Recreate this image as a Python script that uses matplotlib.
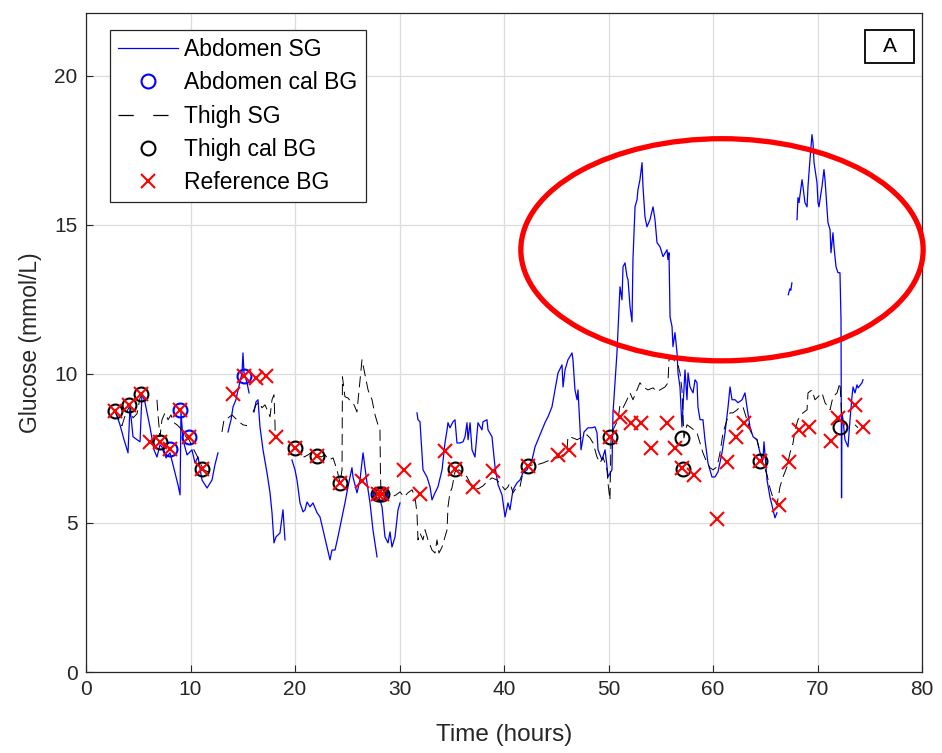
import numpy as np
import matplotlib
matplotlib.use("Agg")
import matplotlib.pyplot as plt
from matplotlib.patches import Ellipse, Rectangle

plt.rcParams['font.family'] = ['Liberation Sans', 'DejaVu Sans']
plt.rcParams['lines.scale_dashes'] = False

# ---------------- data ----------------
# Abdomen sensor glucose segments (time h, glucose mmol/L)
abd_1 = [(2.87,8.69),(3.25,8.29),(3.64,7.79),(4.02,7.35),(4.21,8.89),(4.50,7.89),(4.88,7.79),(5.17,7.72),(5.36,9.36),(5.65,9.03),(6.12,8.22),(6.51,7.45),(6.79,7.21),(7.08,7.62),(7.27,7.55),(7.66,7.18),(8.04,7.35),(8.52,6.68),(8.80,6.28),(9.00,5.94),(9.09,8.72),(9.28,7.79),(9.67,7.28),(10.14,7.45),(10.43,7.01),(10.72,7.21),(11.10,6.44),(11.58,6.17),(12.06,6.44),(12.34,6.95),(12.63,7.35)]
abd_2 = [(13.59,8.05),(13.88,8.46),(14.07,8.89),(14.35,9.13),(14.55,9.46),(14.93,10.03),(15.02,10.70),(15.12,10.03),(15.41,9.70),(15.60,9.36)]
abd_3 = [(16.08,8.72),(16.27,9.06),(16.46,9.13),(16.65,8.22),(16.94,7.45),(17.32,6.68),(17.61,6.01),(17.80,5.34),(17.99,4.33),(18.18,4.53),(18.56,4.66),(18.85,5.44),(19.04,4.43)]
abd_4 = [(19.71,7.11),(20.00,6.78),(20.19,6.44),(20.48,5.67),(20.77,5.37),(20.96,5.44),(21.15,5.70),(21.44,5.54),(21.72,5.67),(22.11,5.34),(22.39,5.20),(22.68,4.77),(23.06,4.19),(23.35,3.76),(23.54,4.09),(23.83,4.09),(24.11,4.53),(24.50,5.20),(24.78,5.67),(25.07,6.21),(25.45,6.85),(25.55,6.54),(25.93,6.01),(26.22,6.44),(26.51,7.35),(26.89,6.34),(27.18,5.67),(27.46,4.77),(27.85,3.86)]
abd_5 = [(28.04,5.87),(28.33,5.54),(28.61,4.53),(28.90,4.33),(29.09,4.70),(29.28,4.19),(29.57,4.53),(29.86,5.44),(30.05,5.67)]
abd_6 = [(31.67,8.69),(31.77,8.46),(31.96,8.39),(32.25,6.78),(32.63,6.54),(32.92,6.21),(33.11,5.77),(33.40,6.01),(33.68,6.21),(34.07,6.78),(34.35,7.68),(34.55,8.12),(34.64,8.36),(34.83,8.19),(35.12,8.39),(35.31,8.46),(35.50,7.68),(35.79,7.68),(36.08,7.72),(36.27,7.89),(36.46,8.36),(36.56,7.79),(36.75,8.36),(36.94,7.45),(37.22,7.21),(37.51,8.36),(37.89,8.12),(37.99,8.39),(38.37,8.46),(38.47,8.12),(38.85,7.89),(39.14,6.88),(39.43,6.28),(39.81,5.94),(40.10,5.20),(40.38,5.67),(40.57,5.44),(40.86,6.11),(41.24,6.34),(41.53,6.44),(41.82,6.68),(42.20,6.78),(42.68,7.11),(42.97,7.55),(43.25,7.79),(43.64,8.12),(43.92,8.36),(44.21,8.56),(44.59,8.89),(44.88,9.46),(45.17,10.03),(45.55,10.30),(45.65,9.56),(45.84,10.13),(46.12,10.47),(46.51,10.70),(46.60,10.47),(46.79,9.46),(46.99,9.13),(47.08,9.46),(47.27,8.22),(47.37,7.45),(47.66,8.05),(48.04,8.19),(48.42,8.19),(48.71,8.22),(48.90,8.02),(49.00,7.45),(49.38,7.11),(49.67,7.45),(49.86,6.88),(49.95,6.54),(50.33,6.78),(50.43,8.69),(50.81,10.70),(51.10,12.92),(51.29,12.48),(51.39,13.59),(51.58,13.72),(51.77,13.26),(51.87,13.15),(52.06,12.25),(52.25,11.74),(52.34,13.83),(52.54,15.60),(52.73,15.84),(52.82,16.17),(53.01,16.51),(53.21,17.08),(53.30,16.28),(53.49,15.27),(53.68,14.93),(53.97,15.17),(54.26,15.60),(54.45,15.17),(54.64,14.40),(54.93,14.26),(55.22,13.93),(55.60,14.16),(55.69,13.83),(55.79,14.06),(55.89,11.91),(56.08,11.58),(56.17,10.91),(56.36,11.38),(56.56,10.70),(56.65,10.03),(56.84,9.56),(57.03,8.22),(57.13,8.89),(57.32,10.13),(57.51,9.13),(57.61,10.03),(57.80,9.56),(58.09,9.36),(58.28,9.80),(58.47,9.70),(58.56,8.89),(58.76,8.46),(59.04,8.46),(59.23,7.79),(59.52,7.01),(59.90,6.54),(60.19,6.54),(60.48,6.71),(60.86,7.35),(61.15,8.02),(61.44,8.89),(61.63,9.56),(61.82,9.13),(62.11,9.13),(62.39,9.03),(62.78,9.13),(63.06,9.36),(63.25,8.89),(63.54,8.22),(63.83,7.89),(64.21,7.79),(64.50,7.35),(64.78,7.11),(64.88,7.72),(65.17,6.44),(65.45,5.87),(65.74,5.44),(65.93,5.17),(66.12,5.34)]
abd_7 = [(67.20,12.65),(67.35,12.85),(67.45,12.80),(67.55,13.05)]
abd_8 = [(68.04,15.17),(68.13,15.91),(68.23,15.74),(68.52,16.51),(68.61,16.28),(68.80,15.74),(69.00,15.60),(69.09,16.28),(69.28,17.18),(69.47,18.02),(69.57,17.75),(69.67,17.08),(69.95,16.41),(70.05,15.74),(70.14,15.60),(70.43,16.28),(70.62,16.85),(70.72,16.51),(70.91,15.50),(71.00,15.07),(71.20,14.83),(71.29,14.06),(71.48,14.73),(71.58,14.26),(71.77,13.59),(71.96,13.39),(72.15,13.39),(72.25,11.81),(72.30,5.84),(72.34,8.69),(72.44,8.46),(72.63,7.79),(72.92,7.55),(73.11,8.46),(73.30,9.23),(73.40,9.56),(73.59,9.36),(73.78,9.63),(73.88,9.53),(74.26,9.70),(74.35,9.80)]

# Thigh sensor glucose segments
th_1 = [(2.68,8.79),(3.06,8.52),(3.44,8.26),(3.83,8.69),(4.21,8.93),(4.50,8.52),(4.88,8.66),(5.17,9.19),(5.55,9.40)]
th_2 = [(6.79,9.13),(6.89,8.62),(7.08,7.89),(7.27,8.46),(7.56,8.69),(7.85,8.46),(8.13,8.62),(8.42,8.36),(8.71,8.29),(9.00,8.19),(9.28,8.02),(9.57,7.89),(9.86,7.79),(10.14,7.58),(10.43,7.38),(10.72,7.18),(11.00,6.95),(11.29,6.78),(11.67,6.71),(12.06,6.85)]
th_3 = [(13.01,8.05),(13.21,8.46),(13.59,8.52),(13.97,8.62),(14.26,8.52),(14.64,8.39),(15.02,8.29),(15.41,8.26)]
th_4 = [(15.98,8.72),(16.27,8.96),(16.56,9.06),(16.84,8.86),(17.13,8.96),(17.42,8.72),(17.61,8.56),(17.80,9.13),(17.99,9.30),(18.09,8.29),(18.10,7.89)]
th_5 = [(19.71,7.62),(20.10,7.52),(20.48,7.38),(20.86,7.21),(21.24,7.28),(21.63,7.38),(22.11,7.28),(22.49,7.21),(22.87,7.28),(23.25,7.11),(23.64,7.18),(24.02,6.78),(24.31,6.34),(24.50,6.78),(24.54,9.90),(24.78,9.23),(25.07,9.19),(25.36,9.06),(25.65,8.96),(25.93,8.72),(26.41,10.47),(26.70,9.97),(26.99,9.46),(27.37,9.13),(27.66,8.62),(27.94,8.29),(28.13,8.12),(28.18,6.61),(28.23,6.01),(28.61,5.87),(28.90,6.04),(29.28,5.87),(29.67,5.94),(30.05,6.04),(30.43,5.87),(30.81,6.01),(31.20,6.11),(31.48,5.87),(31.67,5.34),(31.77,4.43),(31.96,4.66),(32.25,4.43),(32.44,4.77),(32.73,4.43),(33.11,4.09),(33.40,3.99),(33.59,4.43),(33.78,3.99),(34.07,4.19),(34.35,4.53),(34.55,4.77),(34.64,5.54),(34.83,6.01),(35.02,6.17),(35.31,6.71),(35.69,6.78),(36.08,6.68),(36.46,6.54),(36.75,6.34),(37.13,6.21),(37.51,6.14),(37.99,6.24),(38.37,6.38),(38.85,6.51),(39.33,6.44),(39.71,6.28),(40.10,6.11),(40.38,6.21),(40.57,6.34),(40.86,6.01),(41.24,6.21),(41.53,6.21),(41.82,6.71),(42.30,6.91),(42.78,6.95),(43.16,6.95),(43.73,7.01),(44.21,7.08),(44.69,7.18),(45.17,7.18),(45.65,7.28),(46.03,7.45),(46.12,7.89),(46.60,7.85),(46.99,7.79),(47.56,7.89),(47.94,7.95),(48.23,7.85),(48.52,7.68),(48.90,7.21),(49.19,7.01),(49.47,7.21),(49.86,6.78),(49.95,6.34),(50.14,5.77),(50.24,7.79),(50.43,8.12),(50.91,8.46),(51.10,8.96),(51.39,8.86),(51.77,9.13),(52.06,9.36),(52.34,9.13),(52.73,9.46),(53.01,9.70),(53.30,9.56),(53.78,9.46),(54.26,9.53),(54.64,9.40),(54.93,9.46),(55.41,9.56),(55.69,9.70),(55.79,10.47),(56.08,10.57),(56.36,10.40),(56.65,10.30),(56.84,10.03),(57.03,9.46),(57.13,8.62),(57.22,7.85),(57.51,8.29),(57.80,8.22),(58.18,8.12),(58.47,8.02),(58.76,7.68),(59.04,7.35),(59.43,7.01),(59.71,6.85),(60.00,6.78),(60.38,6.88),(60.67,7.35),(60.96,8.02),(61.34,8.46),(61.63,8.69),(61.91,8.69),(62.30,8.79),(62.58,8.89),(62.87,8.89),(63.25,8.46),(63.54,8.12),(63.83,7.89),(64.21,7.79),(64.50,7.35),(64.78,7.01),(65.17,6.61),(65.45,6.17),(65.74,5.84),(66.12,5.60),(66.41,6.21),(66.70,6.54),(67.08,6.88),(67.37,7.35),(67.66,7.68),(67.85,8.12),(68.13,8.46),(68.61,8.69),(69.00,8.79),(69.09,9.36),(69.47,9.46),(69.76,9.13),(70.05,9.23),(70.43,9.36),(70.72,9.03),(71.20,8.79),(71.48,9.23),(71.87,9.36),(72.15,9.70),(72.34,8.46)]
th_6 = [(73.59,8.29),(73.88,8.19)]

# Calibration blood glucose
abd_cal_t = [8.0, 9.0, 9.9, 15.1, 28.1]
abd_cal_v = [7.48, 8.80, 7.89, 9.93, 5.97]
thigh_cal_t = [2.8, 4.1, 5.3, 7.1, 11.1, 20.0, 22.1, 24.3, 27.9, 28.3, 35.3, 42.3, 50.1, 57.0, 57.1, 64.5, 72.2]
thigh_cal_v = [8.76, 8.96, 9.33, 7.72, 6.81, 7.52, 7.25, 6.34, 5.97, 5.97, 6.81, 6.91, 7.89, 7.85, 6.81, 7.08, 8.22]

# Reference blood glucose
ref_t = [2.78, 4.1, 5.26, 6.1, 7.08, 8.0, 9.0, 9.86, 11.1, 14.07, 15.1, 16.3, 17.2, 18.2, 20.0, 22.1, 24.3, 26.4, 27.9, 28.3, 30.4, 32.0, 34.4, 35.3, 37.0, 38.9, 42.3, 45.2, 46.2, 50.1, 51.1, 52.2, 53.1, 54.1, 55.6, 56.4, 57.0, 58.2, 60.4, 61.3, 62.2, 63.0, 64.5, 66.3, 67.3, 68.2, 69.2, 71.3, 72.0, 73.6, 74.4]
ref_v = [8.76, 8.96, 9.33, 7.72, 7.72, 7.48, 8.80, 7.89, 6.81, 9.33, 9.93, 9.87, 9.93, 7.89, 7.52, 7.25, 6.34, 6.40, 5.97, 5.97, 6.78, 5.97, 7.42, 6.81, 6.20, 6.74, 6.91, 7.28, 7.45, 7.89, 8.56, 8.36, 8.36, 7.52, 8.36, 7.52, 6.85, 6.61, 5.13, 7.05, 7.89, 8.36, 7.08, 5.60, 7.05, 8.12, 8.22, 7.75, 8.52, 8.96, 8.22]

# Highlight ellipse (data units)
ell_center = (60.86, 14.16)
ell_size = (38.5, 7.45)


def join(*segs):
    t, v = [], []
    for s in segs:
        for a, b in s:
            t.append(a); v.append(b)
        t.append(np.nan); v.append(np.nan)
    return np.array(t), np.array(v)


abd_t, abd_v = join(abd_1, abd_2, abd_3, abd_4, abd_5, abd_6, abd_7, abd_8)
th_t, th_v = join(th_1, th_2, th_3, th_4, th_5, th_6)

# ---------------- figure ----------------
fig = plt.figure(figsize=(9.42, 7.53), dpi=100)
ax = fig.add_axes([86/942, 1-672/753, 836/942, 659/753])

ax.plot(abd_t, abd_v, color='#0000ff', lw=0.9, label='Abdomen SG')
ax.plot(abd_cal_t, abd_cal_v, 'o', ms=10, mfc='none', mec='#0000ff', mew=1.5,
        label='Abdomen cal BG')
ax.plot(th_t, th_v, color='black', lw=0.7, dashes=(8, 4), label='Thigh SG')
ax.plot(thigh_cal_t, thigh_cal_v, 'o', ms=10, mfc='none', mec='black', mew=1.5,
        label='Thigh cal BG')
ax.plot(ref_t, ref_v, 'x', ms=10, mec='red', mew=1.5, label='Reference BG')

ax.add_patch(Ellipse(ell_center, ell_size[0], ell_size[1], fill=False,
                     ec='red', lw=3.8, clip_on=False, zorder=5))

ax.set_xlim(0, 80)
ax.set_ylim(0, 22.1)
ax.set_xticks(np.arange(0, 81, 10))
ax.set_yticks(np.arange(0, 21, 5))
ax.grid(True, color='#dcdcdc', lw=0.9)
ax.set_axisbelow(True)
ax.tick_params(direction='in', length=5, width=0.8, labelsize=15,
               colors='#262626', pad=6)
for sp in ax.spines.values():
    sp.set_color('#262626')
    sp.set_linewidth(0.9)
ax.set_xlabel('Time (hours)', fontsize=17.5, color='#262626', labelpad=18)
ax.set_ylabel('Glucose (mmol/L)', fontsize=16.5, color='#262626', labelpad=9)

leg_handles, leg_labels = ax.get_legend_handles_labels()
leg = ax.legend(leg_handles, leg_labels, loc='upper left',
                bbox_to_anchor=(24/836, (672-30)/659), borderaxespad=0,
                fontsize=16.5, frameon=True, fancybox=False, framealpha=1,
                edgecolor='#262626', handlelength=2.6, handletextpad=0.3,
                labelspacing=0.45, borderpad=0.35)
leg.get_frame().set_linewidth(0.9)
for h in leg.get_lines():
    if h.get_label() == 'Thigh SG':
        h.set_dashes((11, 14))
        h.set_linewidth(0.9)

# panel label box
ax.add_patch(Rectangle(((865-86)/836, (672-63)/659), 49/836, 33/659,
                       transform=ax.transAxes, fc='white', ec='black',
                       lw=1.3, zorder=6))
ax.text((889.5-86)/836, (672-46.5)/659, 'A', transform=ax.transAxes,
        ha='center', va='center', fontsize=15, color='black', zorder=7)

fig.savefig('out.png', dpi=100)
